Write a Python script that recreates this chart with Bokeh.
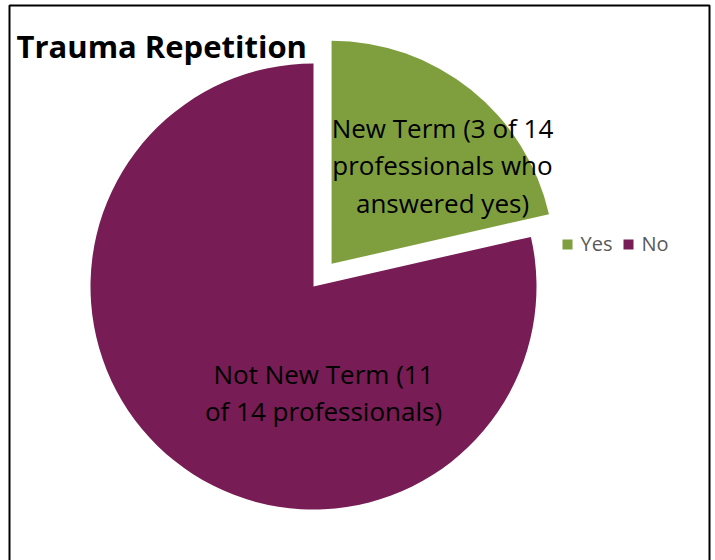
import math
from bokeh.plotting import figure
from bokeh.models import Range1d, ColumnDataSource
from bokeh.core.properties import value
from bokeh.embed import file_html
from bokeh.resources import INLINE

# ---- data ----
categories = ["Yes", "No"]
counts = [3, 11]
colors = ["#7f9f3e", "#771c54"]
explode = [29, 0]          # px offset of each slice along its bisector
title_text = "Trauma Repetition"
label_lines = [
    ["New Term (3 of 14", "professionals who", "answered yes)"],
    ["Not New Term (11", "of 14 professionals)"],
]

W, H = 715, 560
FONT = "Open Sans"

p = figure(width=W, height=H, output_backend="svg", toolbar_location=None,
           x_range=Range1d(0, W), y_range=Range1d(0, H),
           x_axis_type=None, y_axis_type=None, min_border=0)
p.grid.visible = False
p.outline_line_color = None
p.background_fill_color = "white"
p.border_fill_color = "white"

# pie geometry (clockwise from 12 o'clock)
cx, cy, r = 313, 274, 223
total = sum(counts)
starts, ends, xs, ys = [], [], [], []
acc = 0.0
for c, e in zip(counts, explode):
    a0 = math.pi / 2 - 2 * math.pi * acc / total
    a1 = math.pi / 2 - 2 * math.pi * (acc + c) / total
    mid = (a0 + a1) / 2
    xs.append(cx + e * math.cos(mid))
    ys.append(cy + e * math.sin(mid))
    starts.append(a1)
    ends.append(a0)
    acc += c

src = ColumnDataSource(dict(x=xs, y=ys, start=starts, end=ends, color=colors, cat=categories))
p.wedge(x="x", y="y", radius=r, start_angle="start", end_angle="end",
        fill_color="color", line_color=None, source=src)

# data labels
lab_x = [442, 323]
lab_y0 = [433, 187]
lh = 37.5
tx, ty, tt = [], [], []
for lines, x0, y0 in zip(label_lines, lab_x, lab_y0):
    for i, s in enumerate(lines):
        tx.append(x0)
        ty.append(y0 - i * lh)
        tt.append(s)
p.text(x=tx, y=ty, text=tt, text_font=value(FONT), text_font_size="26px",
       text_color="black", text_align="center", text_baseline="middle")

# title
p.text(x=[16], y=[515], text=[title_text], text_font=value(FONT),
       text_font_size="31px", text_font_style="bold", text_color="black",
       text_align="left", text_baseline="alphabetic")

# legend
leg_x = [567, 628]
leg_y = 316
p.scatter(x=leg_x, y=[leg_y] * 2, marker="square", size=10, fill_color=colors, line_color=None)
p.text(x=[x + 13 for x in leg_x], y=[leg_y + 1] * 2, text=categories, text_font=value(FONT),
       text_font_size="20px", text_color="#595959", text_align="left", text_baseline="middle")

# chart border (left, top, right)
p.line(x=[9, 9, 709, 709], y=[-10, 555, 555, -10], line_color="black", line_width=2)

open("out.html", "w").write(file_html(p, INLINE))
